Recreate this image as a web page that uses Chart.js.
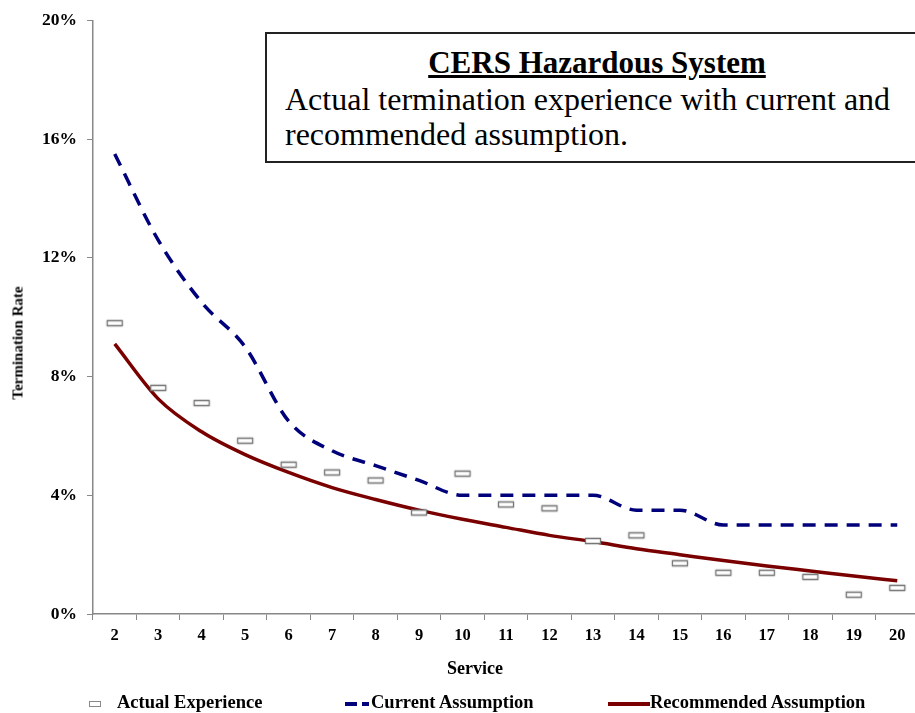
<!DOCTYPE html>
<html>
<head>
<meta charset="utf-8">
<script src="https://cdn.jsdelivr.net/npm/chart.js@4.4.1/dist/chart.umd.min.js"></script>
<style>
  html, body { margin: 0; padding: 0; background: #fff; overflow: hidden; }
  #wrap { position: relative; width: 915px; height: 713px; overflow: hidden; font-family: "Liberation Serif", "Times New Roman", serif; }
  #chart { position: absolute; left: 0; top: 0; }
  .note { position: absolute; left: 265px; top: 32px; width: 660px; height: 131px; border: 2px solid #222; box-sizing: border-box; background: #fff; }
  .note h2 { margin: 0; position: absolute; top: 11px; left: 0; width: 660px; text-align: center; font-size: 31px; font-weight: bold; text-decoration: underline; line-height: 36px; }
  .note p { margin: 0; position: absolute; top: 48px; left: 18px; font-size: 32px; line-height: 35px; white-space: nowrap; }
  .ytitle { position: absolute; left: 18px; top: 343px; transform: translate(-50%, -50%) rotate(-90deg); font-size: 15px; font-weight: bold; white-space: nowrap; }
  .xtitle { position: absolute; left: 475px; top: 668px; transform: translate(-50%, -50%); font-size: 18px; font-weight: bold; white-space: nowrap; }
  .legend { position: absolute; top: 691px; font-size: 18.5px; font-weight: bold; white-space: nowrap; line-height: 22px; }
  .sw { display: inline-block; vertical-align: middle; }
</style>
</head>
<body>
<div id="wrap">
  <canvas id="chart" width="925" height="713"></canvas>
  <div class="note">
    <h2>CERS Hazardous System</h2>
    <p>Actual termination experience with current and<br>recommended assumption.</p>
  </div>
  <div class="ytitle">Termination Rate</div>
  <div class="xtitle">Service</div>
  <div class="legend" style="left:89px"><span class="sw" style="width:10px;height:4px;border:1px solid #888;margin-right:16px"></span>Actual Experience</div>
  <div class="legend" style="left:345px"><span class="sw" style="width:12px;height:4px;background:#00007a;margin-right:5px"></span><span class="sw" style="width:7px;height:4px;background:#00007a;margin-right:2px"></span>Current Assumption</div>
  <div class="legend" style="left:608px"><span class="sw" style="width:42px;height:4px;background:#7a0000"></span>Recommended Assumption</div>
</div>
<script>
const serviceYears = ['2', '3', '4', '5', '6', '7', '8', '9', '10', '11', '12', '13', '14', '15', '16', '17', '18', '19', '20'];
const actualExperience = [9.8, 7.62, 7.11, 5.84, 5.03, 4.77, 4.5, 3.42, 4.73, 3.69, 3.56, 2.46, 2.65, 1.71, 1.39, 1.39, 1.25, 0.65, 0.88];
const currentAssumption = [15.5, 12.6, 10.5, 9.0, 6.5, 5.5, 5.0, 4.5, 4.0, 4.0, 4.0, 4.0, 3.5, 3.5, 3.0, 3.0, 3.0, 3.0, 3.0];
const recommendedAssumption = [9.1, 7.25, 6.14, 5.37, 4.77, 4.26, 3.86, 3.5, 3.19, 2.92, 2.65, 2.44, 2.2, 2.0, 1.8, 1.62, 1.45, 1.28, 1.12];
const yTicks = [0, 4, 8, 12, 16, 20];

// little flat box used for the actual experience markers
function makeBox() {
    const c = document.createElement('canvas');
    c.width = 20; c.height = 10;
    const g = c.getContext('2d');
    g.shadowColor = 'rgba(0,0,0,0.35)';
    g.shadowBlur = 2;
    g.fillStyle = '#fff';
    g.strokeStyle = '#777';
    g.lineWidth = 1.3;
    g.beginPath();
    g.rect(2.5, 2.5, 15, 5);
    g.fill();
    g.shadowColor = 'transparent';
    g.stroke();
    return c;
}

const serif = "'Liberation Serif', 'Times New Roman', serif";
const ctx = document.getElementById('chart').getContext('2d');

new Chart(ctx, {
    type: 'line',
    data: {
        labels: serviceYears,
        datasets: [{
            label: 'Actual Experience',
            data: actualExperience,
            showLine: false,
            pointStyle: makeBox(),
            pointRadius: 5,
            order: 0
        }, {
            label: 'Current Assumption',
            data: currentAssumption,
            borderColor: '#00007a',
            borderWidth: 3.5,
            borderDash: [13, 9],
            pointRadius: 0,
            cubicInterpolationMode: 'monotone',
            order: 2
        }, {
            label: 'Recommended Assumption',
            data: recommendedAssumption,
            borderColor: '#7a0000',
            borderWidth: 3.5,
            pointRadius: 0,
            cubicInterpolationMode: 'monotone',
            order: 1
        }]
    },
    options: {
        responsive: false,
        animation: false,
        layout: { padding: { top: 18, bottom: 44, left: 0, right: 4 } },
        plugins: {
            legend: { display: false },
            tooltip: { enabled: false }
        },
        scales: {
            y: {
                min: 0,
                max: 20,
                afterFit: function (scale) { scale.width = 93; },
                afterBuildTicks: function (scale) {
                    scale.ticks = yTicks.map(v => ({ value: v }));
                },
                ticks: {
                    callback: function (value) { return value + '%'; },
                    color: '#000',
                    padding: 10,
                    font: { family: serif, size: 17.5, weight: 'bold' }
                },
                grid: {
                    drawOnChartArea: false,
                    tickLength: 6,
                    color: '#888'
                },
                border: { color: '#888', width: 1.5 }
            },
            x: {
                offset: true,
                afterFit: function (scale) { scale.height = 55; },
                ticks: {
                    color: '#000',
                    padding: 6,
                    maxRotation: 0,
                    autoSkip: false,
                    font: { family: serif, size: 16.5, weight: 'bold' }
                },
                grid: {
                    drawOnChartArea: false,
                    offset: true,
                    tickLength: 6,
                    color: '#888'
                },
                border: { color: '#888', width: 1.5 }
            }
        }
    }
});
</script>
</body>
</html>
